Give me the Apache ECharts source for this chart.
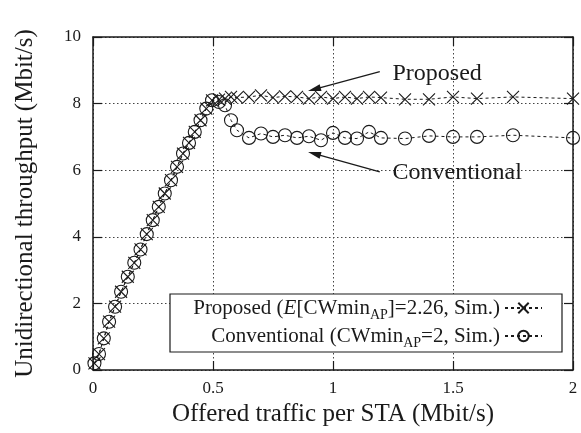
<!DOCTYPE html>
<html>
<head>
<meta charset="utf-8">
<script src="https://cdn.jsdelivr.net/npm/echarts@6/dist/echarts.min.js"></script>
<style>html,body{margin:0;padding:0;background:#fff}#c{width:581px;height:433px}</style>
</head>
<body>
<div id="c"></div>
<script>
// ---- data ----
const rampX = [0.006,0.025,0.045,0.067,0.092,0.117,0.145,0.172,0.198,0.224,0.249,0.274,0.299,0.325,0.35,0.375,0.4,0.424,0.448,0.472,0.496];
const rampY = [0.2,0.48,0.95,1.45,1.9,2.35,2.8,3.22,3.62,4.08,4.5,4.9,5.3,5.7,6.1,6.5,6.82,7.15,7.5,7.85,8.1];
const plateauX = [0.525,0.55,0.575,0.6,0.65,0.7,0.75,0.8,0.85,0.9,0.95,1.0,1.05,1.1,1.15,1.2,1.3,1.4,1.5,1.6,1.75,2.0];
const proposedY = [8.12,8.15,8.2,8.18,8.2,8.25,8.18,8.22,8.2,8.15,8.2,8.15,8.2,8.15,8.2,8.18,8.13,8.13,8.2,8.15,8.2,8.15];
const conventionalY = [8.05,7.95,7.5,7.2,6.97,7.1,7.0,7.05,6.97,7.02,6.9,7.12,6.97,6.95,7.15,6.97,6.95,7.03,7.0,7.0,7.05,6.97];
const xTicks = [0, 0.5, 1, 1.5, 2];
const yTicks = [0, 2, 4, 6, 8, 10];
const nameProposed = 'Proposed';
const nameConventional = 'Conventional';

const FONT = '"Liberation Serif", "DejaVu Serif", serif';
const INK = '#1a1a1a';

function pairs(xs, ys){ return xs.map((x,i)=>[x, ys[i]]); }
const propData = pairs(rampX, rampY).concat(pairs(plateauX, proposedY));
const convData = pairs(rampX, rampY).concat(pairs(plateauX, conventionalY));

const chart = echarts.init(document.getElementById('c'), null, {renderer:'canvas'});

const gridLine = {show:true, lineStyle:{color:'#444', type:[1.5,2.5], width:1}};
const axisLine = {show:true, onZero:false, lineStyle:{color:INK, width:1.5}};
const tick = {show:true, inside:true, length:9, lineStyle:{color:INK, width:1.2}};

const option = {
  backgroundColor:'#fff',
  animation:false,
  textStyle:{fontFamily:FONT, color:INK},
  grid:{left:93, right:8, top:37, bottom:63, containLabel:false},
  xAxis:[{
    type:'value', min:xTicks[0], max:xTicks[xTicks.length-1], interval:0.5, position:'bottom',
    axisLine:axisLine, axisTick:tick, splitLine:gridLine,
    axisLabel:{fontFamily:FONT, fontSize:17, color:INK, margin:10, formatter:v=>String(v)},
    name:'Offered traffic per STA (Mbit/s)', nameLocation:'middle', nameGap:28,
    nameTextStyle:{fontFamily:FONT, fontSize:25, color:INK}
  },{
    type:'value', min:xTicks[0], max:xTicks[xTicks.length-1], interval:0.5, position:'top',
    axisLine:axisLine, axisTick:tick, splitLine:{show:false}, axisLabel:{show:false}
  }],
  yAxis:[{
    type:'value', min:yTicks[0], max:yTicks[yTicks.length-1], interval:2, position:'left',
    axisLine:axisLine, axisTick:tick, splitLine:gridLine,
    axisLabel:{fontFamily:FONT, fontSize:17, color:INK, margin:12},
    name:'Unidirectional throughput (Mbit/s)', nameLocation:'middle', nameGap:55,
    nameTextStyle:{fontFamily:FONT, fontSize:25, color:INK}
  },{
    type:'value', min:yTicks[0], max:yTicks[yTicks.length-1], interval:2, position:'right',
    axisLine:axisLine, axisTick:tick, splitLine:{show:false}, axisLabel:{show:false}
  }],
  legend:{
    orient:'vertical', right:19, top:294, align:'right',
    padding:[0,19,2,23], itemGap:0, itemWidth:37, itemHeight:13,
    backgroundColor:'#fff', borderColor:INK, borderWidth:1.2, borderRadius:0,
    data:[nameProposed, nameConventional],
    formatter:function(n){
      if(n===nameProposed) return 'Proposed ({it|E}[CWmin{sub|AP}]=2.26, Sim.)';
      return 'Conventional (CWmin{sub|AP}=2, Sim.)';
    },
    textStyle:{fontFamily:FONT, fontSize:21, color:INK, lineHeight:28, width:307, align:'right',
      rich:{
        it:{fontFamily:FONT, fontSize:21, fontStyle:'italic', color:INK, lineHeight:28},
        sub:{fontFamily:FONT, fontSize:14, color:INK, lineHeight:14, verticalAlign:'bottom'}
      }}
  },
  series:[{
    name:nameProposed, type:'line', data:propData, clip:false,
    symbol:'path://M0,0L10,10M10,0L0,10', symbolSize:12,
    itemStyle:{color:'transparent', borderColor:INK, borderWidth:1.1},
    lineStyle:{color:INK, width:1, type:[3,3]}
  },{
    name:nameConventional, type:'line', data:convData, clip:false,
    symbol:'circle', symbolSize:13,
    itemStyle:{color:'transparent', borderColor:INK, borderWidth:1.1},
    lineStyle:{color:INK, width:1, type:[3,3]}
  }]
};
chart.setOption(option);

// annotations positioned in data coordinates
const notes = [
  {text:'Proposed', tail:[1.195,8.96], head:[0.896,8.38], at:[1.248,8.91]},
  {text:'Conventional', tail:[1.195,5.95], head:[0.896,6.55], at:[1.248,5.91]}
];
const g = [];
notes.forEach(n=>{
  const t = chart.convertToPixel({gridIndex:0}, n.tail);
  const h = chart.convertToPixel({gridIndex:0}, n.head);
  const a = chart.convertToPixel({gridIndex:0}, n.at);
  const dx = h[0]-t[0], dy = h[1]-t[1], L = Math.hypot(dx,dy);
  const ux = dx/L, uy = dy/L, len = 13, hw = 3.5;
  const bx = h[0]-ux*len, by = h[1]-uy*len;
  g.push({type:'line', shape:{x1:t[0], y1:t[1], x2:bx+ux*2, y2:by+uy*2}, style:{stroke:INK, lineWidth:1.2}, z:100});
  g.push({type:'polygon', shape:{points:[[h[0],h[1]],[bx-uy*hw,by+ux*hw],[bx+uy*hw,by-ux*hw]]}, style:{fill:INK}, z:100});
  g.push({type:'text', x:a[0], y:a[1], style:{text:n.text, font:'24px '+FONT, fill:INK, textVerticalAlign:'middle', textAlign:'left'}, z:100});
});
chart.setOption({graphic:g});
</script>
</body>
</html>
